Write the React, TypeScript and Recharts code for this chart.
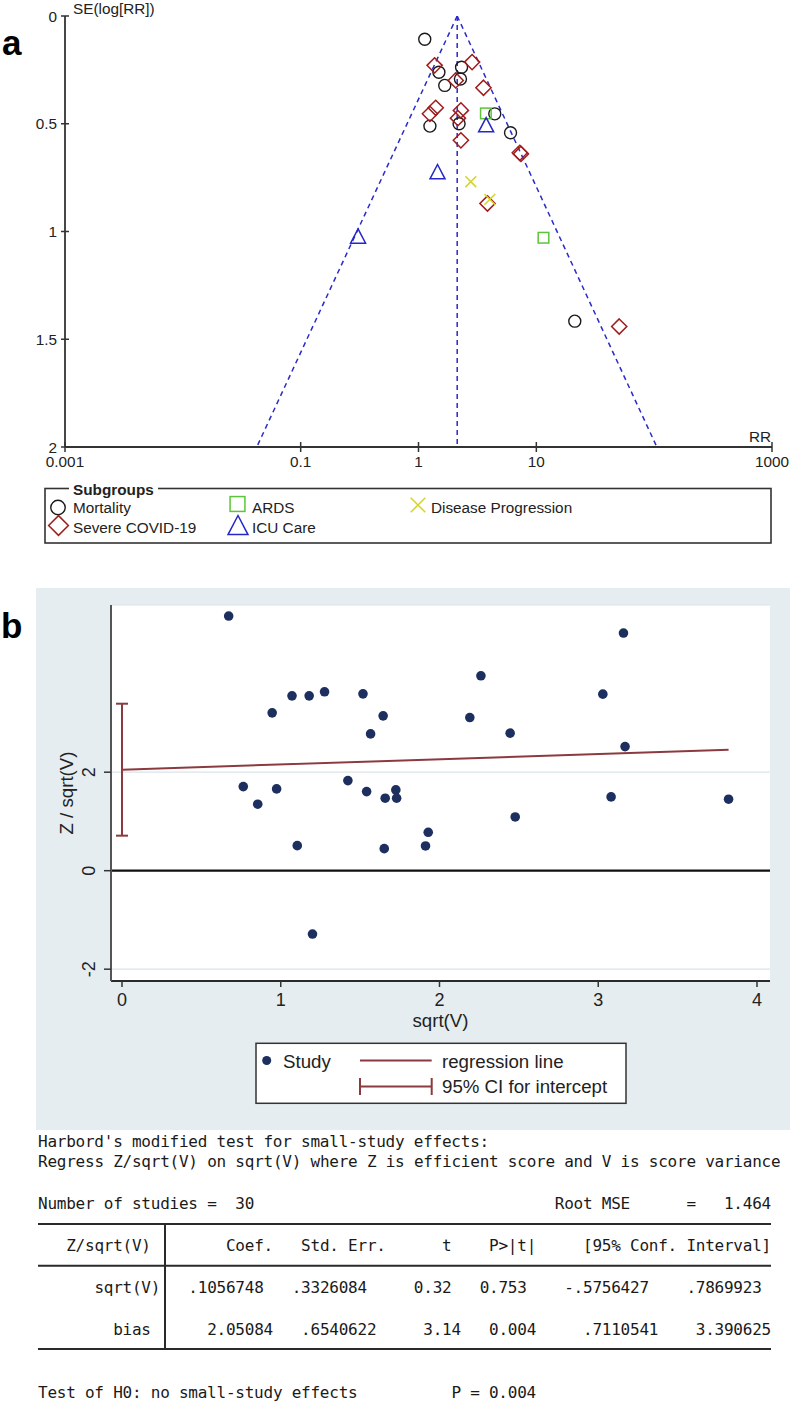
import React from 'react';
import { ScatterChart, Scatter, XAxis, YAxis, CartesianGrid, ReferenceLine, ErrorBar } from 'recharts';

const SANS = '"Liberation Sans", Arial, sans-serif';
const MONO = '"DejaVu Sans Mono", "Liberation Mono", monospace';

// ---------- Panel a: funnel plot data (RR, SE(log RR)) ----------
const xTicksA = [0.001, 0.1, 1, 10, 1000];
const yTicksA = [0, 0.5, 1, 1.5, 2];
const pooledRR = 2.13;
const funnelLowerAt2 = 0.0424;
const funnelUpperAt2 = 105.4;

const mortality = [
  { rr: 1.13, se: 0.108 }, { rr: 1.49, se: 0.261 }, { rr: 2.32, se: 0.238 },
  { rr: 1.67, se: 0.322 }, { rr: 2.27, se: 0.292 }, { rr: 1.25, se: 0.511 },
  { rr: 2.21, se: 0.5 }, { rr: 4.44, se: 0.454 }, { rr: 6.04, se: 0.542 },
  { rr: 21.2, se: 1.416 },
];
const severe = [
  { rr: 1.37, se: 0.229 }, { rr: 2.85, se: 0.214 }, { rr: 2.07, se: 0.299 },
  { rr: 3.56, se: 0.333 }, { rr: 1.4, se: 0.426 }, { rr: 1.25, se: 0.454 },
  { rr: 2.29, se: 0.438 }, { rr: 2.16, se: 0.474 }, { rr: 2.29, se: 0.577 },
  { rr: 7.24, se: 0.635 }, { rr: 7.4, se: 0.64 }, { rr: 3.85, se: 0.87 },
  { rr: 50.5, se: 1.441 },
];
const ards = [{ rr: 3.73, se: 0.452 }, { rr: 11.5, se: 1.029 }];
const icu = [{ rr: 3.75, se: 0.506 }, { rr: 1.45, se: 0.724 }, { rr: 0.307, se: 1.023 }];
const progression = [{ rr: 2.78, se: 0.769 }, { rr: 4.03, se: 0.851 }];

const funnelCenter = [{ rr: pooledRR, se: 0 }, { rr: pooledRR, se: 2 }];
const funnelLeft = [{ rr: pooledRR, se: 0 }, { rr: funnelLowerAt2, se: 2 }];
const funnelRight = [{ rr: pooledRR, se: 0 }, { rr: funnelUpperAt2, se: 2 }];

// ---------- Panel b: Harbord plot data ----------
const xTicksB = [0, 1, 2, 3, 4];
const yTicksB = [-2, 0, 2];
const studies = [
  { x: 0.672, y: 5.171 }, { x: 0.946, y: 3.205 }, { x: 1.071, y: 3.55 }, { x: 1.179, y: 3.55 },
  { x: 1.276, y: 3.632 }, { x: 1.518, y: 3.591 }, { x: 1.645, y: 3.144 }, { x: 1.566, y: 2.778 },
  { x: 0.764, y: 1.707 }, { x: 0.855, y: 1.35 }, { x: 0.974, y: 1.661 }, { x: 1.423, y: 1.829 },
  { x: 1.541, y: 1.606 }, { x: 1.658, y: 1.472 }, { x: 1.725, y: 1.64 }, { x: 1.73, y: 1.472 },
  { x: 1.104, y: 0.508 }, { x: 1.652, y: 0.447 }, { x: 1.929, y: 0.78 }, { x: 1.912, y: 0.502 },
  { x: 2.261, y: 3.957 }, { x: 2.191, y: 3.11 }, { x: 2.445, y: 2.793 }, { x: 2.477, y: 1.091 },
  { x: 3.029, y: 3.585 }, { x: 3.159, y: 4.825 }, { x: 3.169, y: 2.52 }, { x: 3.081, y: 1.498 },
  { x: 3.821, y: 1.451 }, { x: 1.2, y: -1.287 },
];
const regressionLine = [{ x: 0, y: 2.05084 }, { x: 3.821, y: 2.4546 }];
const biasEstimate = 2.05084;
const biasLow = 0.7110541;
const biasHigh = 3.390625;
const interceptCI = [{ x: 0, y: biasEstimate, err: [biasEstimate - biasLow, biasHigh - biasEstimate] }];

// ---------- Stata output text ----------
const statLines = [
  { y: 1146.7, t: "Harbord's modified test for small-study effects:" },
  { y: 1167.3, t: 'Regress Z/sqrt(V) on sqrt(V) where Z is efficient score and V is score variance' },
  { y: 1209.3, t: 'Number of studies =  30                                Root MSE      =   1.464' },
  { y: 1250.7, t: '   Z/sqrt(V)        Coef.   Std. Err.      t    P>|t|     [95% Conf. Interval]' },
  { y: 1293.3, t: '      sqrt(V)   .1056748   .3326084     0.32   0.753    -.5756427    .7869923' },
  { y: 1335, t: '        bias      2.05084   .6540622     3.14   0.004     .7110541    3.390625' },
  { y: 1397.7, t: 'Test of H0: no small-study effects          P = 0.004' },
];

const C = {
  mort: '#1a1a1a',
  severe: '#9e1c1c',
  ards: '#5cc43a',
  icu: '#2626c9',
  prog: '#d4d428',
  funnel: '#2a2acb',
  axis: '#333333',
  navy: '#1c2f5e',
  maroon: '#8b3a3f',
  bg: '#e5edf0',
  grid: '#dae4e8',
};

const circleShape = (cx: number, cy: number, s = 1) => (
  <circle cx={cx} cy={cy} r={6 * s} fill="none" stroke={C.mort} strokeWidth={1.4} />
);
const diamondShape = (cx: number, cy: number, s = 1) => {
  const h = 7.6 * s;
  return <polygon points={`${cx},${cy - h} ${cx + h},${cy} ${cx},${cy + h} ${cx - h},${cy}`} fill="none" stroke={C.severe} strokeWidth={1.5} />;
};
const squareShape = (cx: number, cy: number, s = 1) => {
  const h = 5.3 * s;
  return <rect x={cx - h} y={cy - h} width={2 * h} height={2 * h} fill="none" stroke={C.ards} strokeWidth={1.5} />;
};
const triangleShape = (cx: number, cy: number, s = 1) => {
  const w = 7.5 * s;
  return <polygon points={`${cx},${cy - 7.5 * s} ${cx + w},${cy + 6.8 * s} ${cx - w},${cy + 6.8 * s}`} fill="none" stroke={C.icu} strokeWidth={1.5} />;
};
const crossShape = (cx: number, cy: number, s = 1) => {
  const h = 5.4 * s;
  return (
    <g stroke={C.prog} strokeWidth={1.5}>
      <line x1={cx - h} y1={cy - h} x2={cx + h} y2={cy + h} />
      <line x1={cx - h} y1={cy + h} x2={cx + h} y2={cy - h} />
    </g>
  );
};

const TickXA = (p: any) => (
  <g>
    <line x1={p.x} x2={p.x} y1={p.y - 5} y2={p.y + 5} stroke={C.axis} strokeWidth={1.5} />
    <text x={p.x} y={p.y + 20} textAnchor="middle" fontSize={15.3} fontFamily={SANS} fill="#222">{String(p.payload.value)}</text>
  </g>
);
const TickYA = (p: any) => (
  <g>
    <line x1={p.x - 4} x2={p.x + 4} y1={p.y} y2={p.y} stroke={C.axis} strokeWidth={1.5} />
    <text x={p.x - 8} y={p.y} dy="0.36em" textAnchor="end" fontSize={15.3} fontFamily={SANS} fill="#222">{String(p.payload.value)}</text>
  </g>
);
const TickXB = (p: any) => (
  <g>
    <line x1={p.x} x2={p.x} y1={p.y} y2={p.y + 6} stroke={C.axis} strokeWidth={1.5} />
    <text x={p.x} y={p.y + 25} textAnchor="middle" fontSize={18} fontFamily={SANS} fill="#222">{String(p.payload.value)}</text>
  </g>
);
const TickYB = (p: any) => (
  <g>
    <line x1={p.x - 7} x2={p.x} y1={p.y} y2={p.y} stroke={C.axis} strokeWidth={1.5} />
    <text x={p.x - 16} y={p.y} transform={`rotate(-90 ${p.x - 16} ${p.y})`} textAnchor="middle" fontSize={18} fontFamily={SANS} fill="#222">{String(p.payload.value)}</text>
  </g>
);

const empty = () => <g />;
const dashed = { stroke: C.funnel, strokeWidth: 1.5, strokeDasharray: '5 4' };

export default function App() {
  return (
    <div style={{ position: 'absolute', left: 0, top: 0, width: 790, height: 1403, background: '#fff', overflow: 'hidden', fontFamily: SANS }}>
      {/* Panel a */}
      <div style={{ position: 'absolute', left: 0, top: 0 }}>
        <ScatterChart width={790} height={480} margin={{ top: 16, right: 18, bottom: 3, left: 5 }}>
          <XAxis type="number" dataKey="rr" scale="log" domain={[0.001, 1000]} ticks={xTicksA} allowDataOverflow interval={0}
            height={30} tickSize={0} tickMargin={0} tickLine={false} axisLine={{ stroke: C.axis, strokeWidth: 1.8 }} tick={(p: any) => <TickXA {...p} />} />
          <YAxis type="number" dataKey="se" reversed domain={[0, 2]} ticks={yTicksA} allowDataOverflow interval={0}
            width={60} tickSize={0} tickMargin={0} tickLine={false} axisLine={{ stroke: C.axis, strokeWidth: 1.8 }} tick={(p: any) => <TickYA {...p} />} />
          <Scatter data={funnelLeft} line={dashed} shape={empty} isAnimationActive={false} />
          <Scatter data={funnelRight} line={dashed} shape={empty} isAnimationActive={false} />
          <Scatter data={funnelCenter} line={dashed} shape={empty} isAnimationActive={false} />
          <Scatter data={mortality} shape={(p: any) => circleShape(p.cx, p.cy)} isAnimationActive={false} />
          <Scatter data={severe} shape={(p: any) => diamondShape(p.cx, p.cy)} isAnimationActive={false} />
          <Scatter data={ards} shape={(p: any) => squareShape(p.cx, p.cy)} isAnimationActive={false} />
          <Scatter data={icu} shape={(p: any) => triangleShape(p.cx, p.cy)} isAnimationActive={false} />
          <Scatter data={progression} shape={(p: any) => crossShape(p.cx, p.cy)} isAnimationActive={false} />
        </ScatterChart>
      </div>

      {/* Panel b */}
      <div style={{ position: 'absolute', left: 36, top: 588, width: 754, height: 542, background: C.bg }}>
        <ScatterChart width={754} height={542} margin={{ top: 17, right: 20, bottom: 109, left: 30 }}>
          <CartesianGrid vertical={false} stroke={C.grid} strokeWidth={1.2} fill="#ffffff" />
          <XAxis type="number" dataKey="x" domain={[-0.0693, 4.082]} ticks={xTicksB} allowDataOverflow interval={0}
            height={40} tickSize={0} tickMargin={0} tickLine={false} axisLine={{ stroke: '#2a2a2a', strokeWidth: 2 }} tick={(p: any) => <TickXB {...p} />} />
          <YAxis type="number" dataKey="y" domain={[-2.24, 5.395]} ticks={yTicksB} allowDataOverflow interval={0}
            width={45} tickSize={0} tickMargin={0} tickLine={false} axisLine={{ stroke: '#555', strokeWidth: 2 }} tick={(p: any) => <TickYB {...p} />} />
          <ReferenceLine y={0} stroke="#111" strokeWidth={2.2} />
          <Scatter data={regressionLine} line={{ stroke: C.maroon, strokeWidth: 2 }} shape={empty} isAnimationActive={false} />
          <Scatter data={interceptCI} shape={empty} isAnimationActive={false}>
            <ErrorBar dataKey="err" direction="y" width={6} stroke={C.maroon} strokeWidth={2} />
          </Scatter>
          <Scatter data={studies} shape={(p: any) => <circle cx={p.cx} cy={p.cy} r={4.8} fill={C.navy} />} isAnimationActive={false} />
        </ScatterChart>
      </div>

      {/* Overlay texts and legends */}
      <svg width={790} height={1403} style={{ position: 'absolute', left: 0, top: 0, pointerEvents: 'none' }}>
        {/* panel labels */}
        <text x={2} y={55} fontSize={35} fontWeight="bold" fontFamily={SANS} fill="#000">a</text>
        <text x={1} y={638} fontSize={35} fontWeight="bold" fontFamily={SANS} fill="#000">b</text>

        {/* panel a axis titles */}
        <text x={73} y={13.5} fontSize={15.3} fontFamily={SANS} fill="#222">SE(log[RR])</text>
        <text x={771} y={441.5} fontSize={15.3} fontFamily={SANS} fill="#222" textAnchor="end">RR</text>

        {/* panel a legend */}
        <rect x={45} y={488.5} width={726} height={54.5} fill="none" stroke="#333" strokeWidth={1.6} />
        <rect x={69} y={482} width={89} height={14} fill="#fff" />
        <text x={73} y={494.5} fontSize={15.3} fontWeight="bold" fontFamily={SANS} fill="#222">Subgroups</text>
        {circleShape(58, 507.5, 1.2)}
        <text x={73} y={513.3} fontSize={15.3} fontFamily={SANS} fill="#222">Mortality</text>
        {diamondShape(58.5, 525.5, 1.3)}
        <text x={73} y={533.3} fontSize={15.3} fontFamily={SANS} fill="#222">Severe COVID-19</text>
        {squareShape(237.5, 504, 1.4)}
        <text x={252} y={513.3} fontSize={15.3} fontFamily={SANS} fill="#222">ARDS</text>
        {triangleShape(238, 525.5, 1.33)}
        <text x={252} y={533.3} fontSize={15.3} fontFamily={SANS} fill="#222">ICU Care</text>
        {crossShape(418, 505, 1.35)}
        <text x={431} y={513.3} fontSize={15.3} fontFamily={SANS} fill="#222">Disease Progression</text>

        {/* panel b axis titles */}
        <text x={72.8} y={793} transform="rotate(-90 72.8 793)" textAnchor="middle" fontSize={18.7} fontFamily={SANS} fill="#222">Z / sqrt(V)</text>
        <text x={440.5} y={1027} textAnchor="middle" fontSize={18.7} fontFamily={SANS} fill="#222">sqrt(V)</text>

        {/* panel b legend */}
        <rect x={256} y={1043.3} width={370} height={60} fill="#fff" stroke="#333" strokeWidth={1.5} />
        <circle cx={266.7} cy={1060.5} r={4.5} fill={C.navy} />
        <text x={283} y={1068.3} fontSize={18.7} fontFamily={SANS} fill="#222">Study</text>
        <line x1={360} x2={431.7} y1={1060.5} y2={1060.5} stroke={C.maroon} strokeWidth={2} />
        <text x={442} y={1068.3} fontSize={18.7} fontFamily={SANS} fill="#222">regression line</text>
        <g stroke={C.maroon} strokeWidth={2}>
          <line x1={360} x2={431.7} y1={1086.5} y2={1086.5} />
          <line x1={360} x2={360} y1={1078} y2={1095} />
          <line x1={431.7} x2={431.7} y1={1078} y2={1095} />
        </g>
        <text x={442} y={1093.3} fontSize={18.7} fontFamily={SANS} fill="#222">95% CI for intercept</text>

        {/* Stata output */}
        {statLines.map((l, i) => (
          <text key={i} x={38} y={l.y} fontSize={16} fontFamily={MONO} fill="#1a1a1a" xmlSpace="preserve"
            style={{ whiteSpace: 'pre' }} textLength={l.t.length * 9.4} lengthAdjust="spacing">{l.t}</text>
        ))}
        <g stroke="#2a2a2a" strokeWidth={2}>
          <line x1={38} x2={771} y1={1224} y2={1224} />
          <line x1={38} x2={771} y1={1265.7} y2={1265.7} />
          <line x1={38} x2={771} y1={1349} y2={1349} />
          <line x1={165} x2={165} y1={1224} y2={1349} />
        </g>
      </svg>
    </div>
  );
}
